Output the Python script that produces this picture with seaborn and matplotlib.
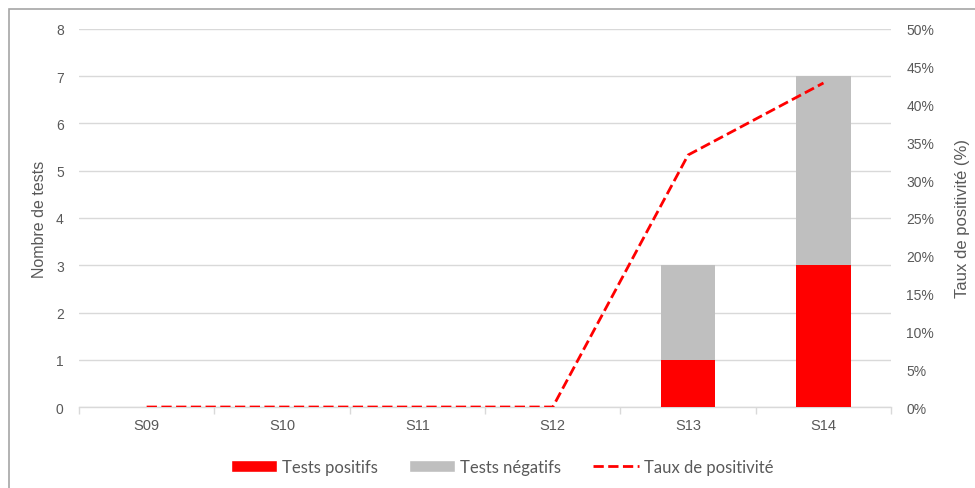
import matplotlib
matplotlib.use('Agg')
import matplotlib.pyplot as plt
import numpy as np
import pandas as pd
import seaborn as sns
from matplotlib.patches import Patch, Rectangle
from matplotlib.lines import Line2D
from matplotlib.ticker import FuncFormatter

# données
semaines = ['S09', 'S10', 'S11', 'S12', 'S13', 'S14']
tests_positifs = [0, 0, 0, 0, 1, 3]
tests_negatifs = [0, 0, 0, 0, 2, 4]
taux_positivite = [0.0, 0.0, 0.0, 0.0, 1 / 3, 3 / 7]

sns.set_theme(style='white')
plt.rcParams['font.family'] = ['Liberation Sans', 'DejaVu Sans']
gris_txt = '#595959'

df = pd.DataFrame({
    'semaine': semaines,
    'positifs': tests_positifs,
    'total': np.array(tests_positifs) + np.array(tests_negatifs),
    'taux': taux_positivite,
})

fig = plt.figure(figsize=(9.75, 4.89), dpi=100)
ax = fig.add_axes([0.081, 0.1656, 0.833, 0.7731])

# barres empilées : total en gris puis positifs en rouge par-dessus
sns.barplot(data=df, x='semaine', y='total', color='#bfbfbf', width=0.4,
            saturation=1, linewidth=0, ax=ax, zorder=3)
sns.barplot(data=df, x='semaine', y='positifs', color='#ff0000', width=0.4,
            saturation=1, linewidth=0, ax=ax, zorder=4)

ax.set_xlim(-0.5, len(semaines) - 0.5)
ax.set_ylim(0, 8)
ax.set_yticks(range(0, 9))
ax.yaxis.grid(True, color='#d9d9d9', linewidth=1)
ax.set_axisbelow(True)
for s in ['left', 'right', 'top']:
    ax.spines[s].set_visible(False)
ax.spines['bottom'].set_color('#d9d9d9')
ax.spines['bottom'].set_linewidth(1)
ax.set_xlabel('')
ax.set_ylabel('Nombre de tests', fontsize=11.5, color=gris_txt, labelpad=6)
ax.tick_params(axis='y', length=0, labelsize=10, labelcolor=gris_txt, pad=11)
ax.tick_params(axis='x', length=0, labelsize=10.5, labelcolor=gris_txt, pad=8)
# petits traits entre catégories
ax.set_xticks(np.arange(-0.5, len(semaines)), minor=True)
ax.tick_params(axis='x', which='minor', length=5, color='#d9d9d9', width=1,
               bottom=True)

# axe secondaire pour le taux
ax2 = ax.twinx()
sns.lineplot(x=np.arange(len(semaines)), y=df['taux'], ax=ax2, color='#ff0000',
             linestyle='--', linewidth=2, zorder=5)
ax2.set_ylim(0, 0.5)
ax2.set_yticks(np.arange(0, 0.51, 0.05))
ax2.yaxis.set_major_formatter(FuncFormatter(lambda v, p: f'{v * 100:.0f}%'))
ax2.tick_params(axis='y', length=0, labelsize=10, labelcolor=gris_txt, pad=11)
ax2.set_ylabel('Taux de positivité (%)', fontsize=12, color=gris_txt, labelpad=15)
for s in ax2.spines.values():
    s.set_visible(False)
ax2.grid(False)

# légende
handles = [
    Patch(facecolor='#ff0000', label='Tests positifs'),
    Patch(facecolor='#bfbfbf', label='Tests négatifs'),
    Line2D([0], [0], color='#ff0000', linestyle='--', linewidth=2,
           label='Taux de positivité'),
]
fig.legend(handles=handles, loc='center', bbox_to_anchor=(0.515, 0.043), ncol=3,
           frameon=False, handlelength=2.75, handleheight=0.75, handletextpad=0.3,
           columnspacing=1.9, prop={'family': 'Lato', 'size': 12},
           labelcolor=gris_txt)

# cadre du graphique (coupé à droite et en bas)
fig.patches.append(Rectangle((9 / 975, -0.1), 1.2, 1 - 10 / 489 + 0.1,
                             transform=fig.transFigure, fill=False,
                             edgecolor='#a6a6a6', linewidth=1.2))

fig.savefig('out.png', dpi=100)
